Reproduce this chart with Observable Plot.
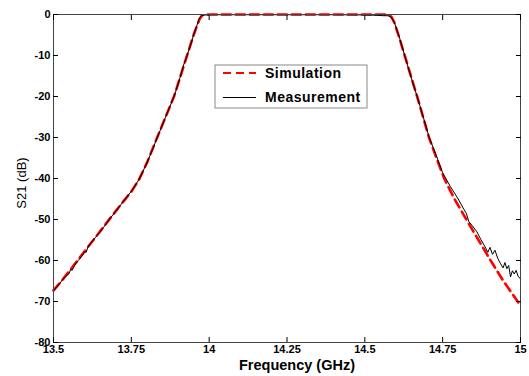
<!DOCTYPE html>
<html><head><meta charset="utf-8">
<script src="https://cdn.jsdelivr.net/npm/d3@7"></script>
<script src="https://cdn.jsdelivr.net/npm/@observablehq/plot@0.6"></script>
<style>html,body{margin:0;padding:0;background:#fff;} #chart{width:529px;height:376px;}</style>
</head><body><div id="chart"></div>
<script>
// Simulation (red dashed)
const simFreq = [13.5, 13.53, 13.57, 13.62, 13.68, 13.72, 13.75, 13.775, 13.8, 13.833, 13.86, 13.887, 13.908, 13.929, 13.95, 13.962, 13.97, 13.978, 14.0, 14.2, 14.4, 14.5, 14.56, 14.575, 14.585, 14.595, 14.61, 14.628, 14.648, 14.668, 14.687, 14.706, 14.73, 14.755, 14.788, 14.826, 14.865, 14.904, 14.945, 15.0];
const simS21 = [-67.3, -64.6, -60.7, -55.8, -49.9, -46.0, -43.2, -40.2, -36.2, -30, -25, -20, -15, -10, -5, -2.5, -1, -0.2, 0, 0, 0, 0, 0, -0.1, -0.5, -2, -5.5, -10, -15, -20, -25, -30, -35, -40, -45, -50, -55, -60, -65, -71];
// Measurement (black solid)
const measFreq = [13.5, 13.51, 13.52, 13.53, 13.54, 13.55, 13.555, 13.56, 13.57, 13.58, 13.59, 13.6, 13.605, 13.61, 13.62, 13.63, 13.64, 13.65, 13.66, 13.67, 13.68, 13.7, 13.72, 13.75, 13.775, 13.8, 13.82, 13.833, 13.847, 13.86, 13.873, 13.887, 13.898, 13.908, 13.918, 13.929, 13.94, 13.95, 13.96, 13.968, 13.975, 14.0, 14.2, 14.4, 14.5, 14.54, 14.56, 14.575, 14.585, 14.595, 14.61, 14.628, 14.648, 14.668, 14.687, 14.706, 14.73, 14.75, 14.775, 14.8, 14.818, 14.826, 14.834, 14.845, 14.86, 14.872, 14.885, 14.895, 14.902, 14.91, 14.918, 14.927, 14.936, 14.944, 14.95, 14.956, 14.962, 14.968, 14.974, 14.98, 14.986, 14.992, 15.0];
const measS21 = [-67.5, -66.5, -65.6, -64.6, -63.8, -63.2, -62.2, -62.4, -60.9, -60.0, -59.0, -57.9, -58.0, -56.8, -55.7, -54.8, -53.9, -53.0, -52.0, -51.0, -49.9, -48.0, -46.0, -43.1, -40.2, -36.2, -32.6, -30, -27.5, -25, -22.6, -20, -17.5, -15, -12.3, -10, -7.5, -5, -2.8, -1, -0.2, -0.05, -0.05, -0.05, -0.1, -0.2, -0.3, -0.3, -0.7, -2, -5.3, -10, -15.2, -20, -24.8, -29.8, -34.5, -38.6, -42, -45, -47.5, -48.5, -50.5, -51.5, -53, -54.8, -56.5, -58, -56.8, -58.5, -57.5, -59.5, -60.8, -61.8, -60.5, -62, -61.2, -64, -62.5, -63.3, -62.4, -63.8, -64.5];

const xTicks = [13.5, 13.75, 14, 14.25, 14.5, 14.75, 15];
const xTickLabels = ["13.5", "13.75", "14", "14.25", "14.5", "14.75", "15"];
const yTicks = [0, -10, -20, -30, -40, -50, -60, -70, -80];
const yTickLabels = ["0", "-10", "-20", "-30", "-40", "-50", "-60", "-70", "-80"];
const seriesNames = ["Simulation", "Measurement"];
const xTitle = "Frequency (GHz)";
const yTitle = "S21 (dB)";

const sim = simFreq.map((f, i) => ({f, s: simS21[i]}));
const meas = measFreq.map((f, i) => ({f, s: measS21[i]}));

const chart = Plot.plot({
  width: 529, height: 376,
  marginLeft: 53, marginRight: 9, marginTop: 14, marginBottom: 34,
  style: {fontFamily: "'Liberation Sans', Arial, sans-serif", fontSize: "11px", color: "#000", background: "#fff"},
  x: {domain: [13.5, 15]},
  y: {domain: [-80, 0]},
  marks: [
    Plot.line(sim, {x: "f", y: "s", stroke: "#ff0000", strokeWidth: 2.6, strokeDasharray: "9,5"}),
    Plot.line(meas, {x: "f", y: "s", stroke: "#000", strokeWidth: 1}),
    Plot.frame({stroke: "#444"}),
    Plot.axisX({ticks: xTicks, tickFormat: d => xTickLabels[xTicks.indexOf(d)], tickSize: -5, tickPadding: 8, label: null, fontWeight: "bold"}),
    Plot.axisX({anchor: "top", ticks: xTicks, tickSize: -5, tickFormat: () => "", label: null}),
    Plot.axisY({ticks: yTicks, tickFormat: d => yTickLabels[yTicks.indexOf(d)], tickSize: -5, tickPadding: 8, label: null, fontWeight: "bold"}),
    Plot.axisY({anchor: "right", ticks: yTicks, tickSize: -5, tickFormat: () => "", label: null})
  ]
});
document.getElementById("chart").appendChild(chart);

const svg = d3.select(chart);
// axis titles
svg.append("text").attr("x", 297).attr("y", 370).attr("text-anchor", "middle")
  .attr("font-weight", "bold").attr("font-size", 14.5).attr("fill", "#000").text(xTitle);
svg.append("text").attr("transform", "translate(26,183) rotate(-90)").attr("text-anchor", "middle")
  .attr("font-size", 13).attr("fill", "#000").text(yTitle);

// legend
const lg = svg.append("g");
lg.append("rect").attr("x", 215).attr("y", 65).attr("width", 152).attr("height", 43)
  .attr("fill", "#fff").attr("stroke", "#888").attr("stroke-width", 1);
const styles = [{stroke: "#ff0000", w: 2, dash: "8,5"}, {stroke: "#000", w: 1, dash: null}];
seriesNames.forEach((name, i) => {
  const y = 73 + i * 24.5;
  const l = lg.append("line").attr("x1", 223).attr("x2", 256).attr("y1", y).attr("y2", y)
    .attr("stroke", styles[i].stroke).attr("stroke-width", styles[i].w);
  if (styles[i].dash) l.attr("stroke-dasharray", styles[i].dash);
  lg.append("text").attr("x", 265).attr("y", y).attr("dy", "0.35em").attr("text-anchor", "start")
    .attr("font-weight", "bold").attr("font-size", 14).attr("letter-spacing", "0.5px").attr("fill", "#000").text(name);
});
</script>
</body></html>
